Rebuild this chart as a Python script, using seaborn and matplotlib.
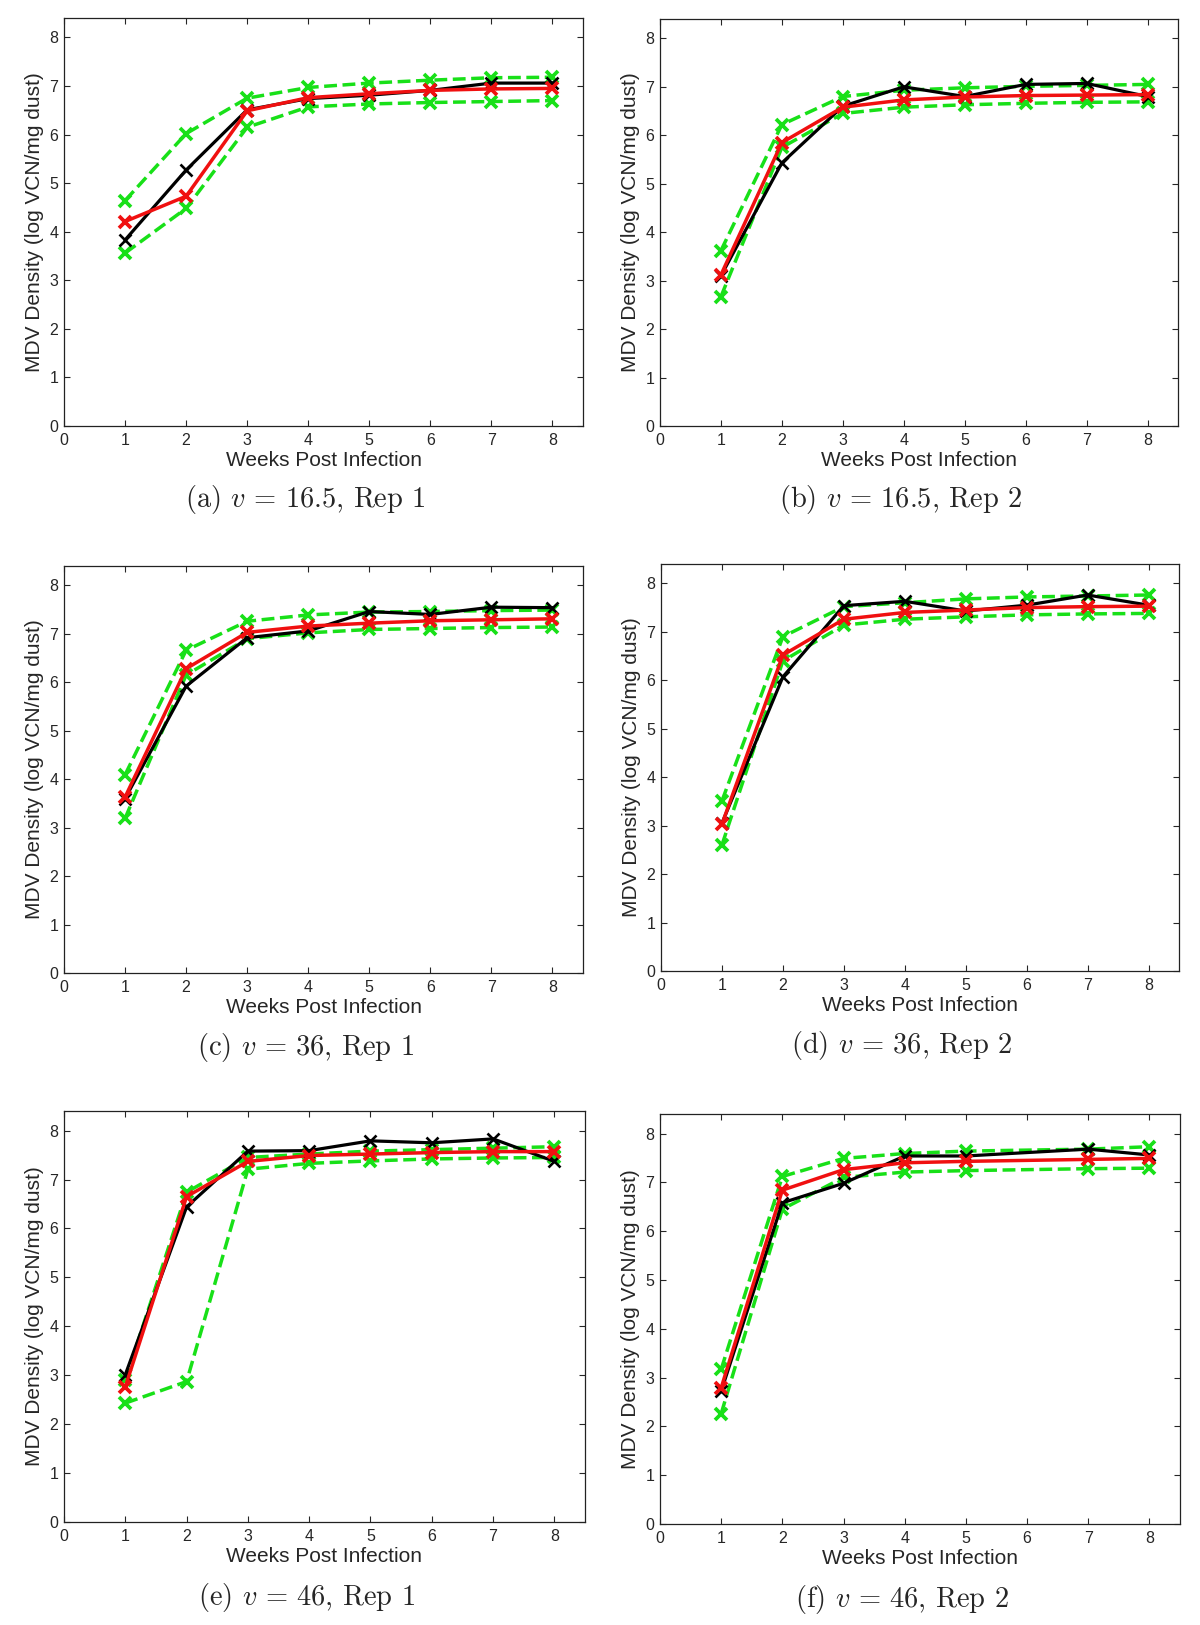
import numpy as np
import pandas as pd
import matplotlib.pyplot as plt
import seaborn as sns

# weeks post infection
weeks = [1, 2, 3, 4, 5, 6, 7, 8]
weeks_f = [1, 2, 3, 4, 5, 7, 8]  # panel (f) has no week-6 point

# (a) v = 16.5, Rep 1
a_obs = [3.83, 5.27, 6.51, 6.74, 6.81, 6.91, 7.06, 7.06]
a_fit = [4.21, 4.73, 6.49, 6.76, 6.84, 6.91, 6.94, 6.95]
a_hi = [4.64, 6.02, 6.75, 6.97, 7.06, 7.12, 7.17, 7.18]
a_lo = [3.56, 4.48, 6.15, 6.57, 6.63, 6.66, 6.68, 6.70]

# (b) v = 16.5, Rep 2
b_obs = [3.10, 5.43, 6.60, 7.00, 6.80, 7.05, 7.07, 6.80]
b_fit = [3.12, 5.85, 6.58, 6.73, 6.79, 6.82, 6.83, 6.84]
b_hi = [3.62, 6.22, 6.80, 6.93, 6.98, 7.01, 7.03, 7.05]
b_lo = [2.67, 5.75, 6.45, 6.58, 6.63, 6.66, 6.68, 6.69]

# (c) v = 36, Rep 1
c_obs = [3.60, 5.92, 6.92, 7.06, 7.46, 7.40, 7.55, 7.54]
c_fit = [3.63, 6.28, 7.03, 7.16, 7.22, 7.27, 7.29, 7.31]
c_hi = [4.09, 6.66, 7.26, 7.39, 7.45, 7.46, 7.48, 7.49]
c_lo = [3.19, 6.15, 6.90, 7.02, 7.09, 7.11, 7.13, 7.14]

# (d) v = 36, Rep 2
d_obs = [3.05, 6.07, 7.54, 7.63, 7.43, 7.55, 7.76, 7.55]
d_fit = [3.03, 6.52, 7.26, 7.40, 7.45, 7.50, 7.52, 7.53]
d_hi = [3.51, 6.90, 7.52, 7.60, 7.68, 7.72, 7.74, 7.76]
d_lo = [2.60, 6.40, 7.14, 7.26, 7.31, 7.35, 7.37, 7.38]

# (e) v = 46, Rep 1
e_obs = [3.01, 6.44, 7.58, 7.59, 7.79, 7.75, 7.83, 7.37]
e_fit = [2.76, 6.65, 7.37, 7.49, 7.52, 7.55, 7.57, 7.57]
e_hi = [2.90, 6.74, 7.45, 7.52, 7.58, 7.61, 7.64, 7.67]
e_lo = [2.43, 2.87, 7.21, 7.33, 7.38, 7.42, 7.44, 7.45]

# (f) v = 46, Rep 2
f_obs = [2.72, 6.58, 6.98, 7.54, 7.54, 7.68, 7.56]
f_fit = [2.79, 6.84, 7.26, 7.40, 7.43, 7.47, 7.49]
f_hi = [3.17, 7.12, 7.49, 7.59, 7.64, 7.68, 7.73]
f_lo = [2.26, 6.45, 7.10, 7.21, 7.24, 7.28, 7.29]

captions = ["(a) $v\\,=\\,16.5$, Rep 1", "(b) $v\\,=\\,16.5$, Rep 2",
            "(c) $v\\,=\\,36$, Rep 1", "(d) $v\\,=\\,36$, Rep 2",
            "(e) $v\\,=\\,46$, Rep 1", "(f) $v\\,=\\,46$, Rep 2"]

panels = [
    (weeks, a_obs, a_fit, a_hi, a_lo),
    (weeks, b_obs, b_fit, b_hi, b_lo),
    (weeks, c_obs, c_fit, c_hi, c_lo),
    (weeks, d_obs, d_fit, d_hi, d_lo),
    (weeks, e_obs, e_fit, e_hi, e_lo),
    (weeks_f, f_obs, f_fit, f_hi, f_lo),
]

# axes boxes in pixels: left, top, right, bottom
boxes = [
    (64, 18, 583, 426),
    (660, 19, 1178, 426),
    (64, 566, 583, 973),
    (661, 564, 1179, 971),
    (64, 1111, 585, 1522),
    (660, 1114, 1180, 1524),
]

GREEN = "#18e018"
RED = "#f01010"

sns.set_theme(style="ticks", rc={
    "xtick.direction": "in",
    "ytick.direction": "in",
    "xtick.top": True,
    "ytick.right": True,
    "axes.linewidth": 0.9,
    "axes.edgecolor": "#222222",
    "mathtext.fontset": "cm",
})
plt.rcParams["font.family"] = ["Liberation Sans", "DejaVu Sans"]

W, H = 1200, 1625
fig = plt.figure(figsize=(W / 100, H / 100), dpi=100)


def draw_panel(ax, x, obs, fit, hi, lo):
    for band in (hi, lo):
        sns.lineplot(x=x, y=band, ax=ax, color=GREEN, linestyle="--", linewidth=2.5,
                     marker="x", markersize=9, mew=2.7, mec=GREEN, errorbar=None)
    sns.lineplot(x=x, y=obs, ax=ax, color="black", linewidth=2.3,
                 marker="x", markersize=9, mew=1.9, mec="black", errorbar=None)
    sns.lineplot(x=x, y=fit, ax=ax, color=RED, linewidth=2.5,
                 marker="x", markersize=9, mew=2.7, mec=RED, errorbar=None)
    ax.set_xlim(0, 8.5)
    ax.set_ylim(0, 8.4)
    ax.set_xticks(range(0, 9))
    ax.set_yticks(range(0, 9))
    ax.tick_params(axis="both", which="major", length=4, width=0.8, labelsize=11.5)
    ax.tick_params(axis="x", pad=5)
    ax.tick_params(axis="y", pad=4)
    ax.set_xlabel("Weeks Post Infection", fontsize=15, labelpad=2)
    ax.set_ylabel("MDV Density (log VCN/mg dust)", fontsize=15, labelpad=4)


for i, ((x, obs, fit, hi, lo), (l, t, r, b), cap) in enumerate(zip(panels, boxes, captions)):
    ax = fig.add_axes([l / W, 1 - b / H, (r - l) / W, (b - t) / H])
    draw_panel(ax, x, obs, fit, hi, lo)
    cx = (l + r) / 2 - 18
    dy = 75 if i >= 4 else 74
    fig.text(cx / W, 1 - (b + dy) / H, cap, ha="center", va="center",
             fontsize=20.5, family="cmr10")

fig.savefig("out.png", dpi=100)
